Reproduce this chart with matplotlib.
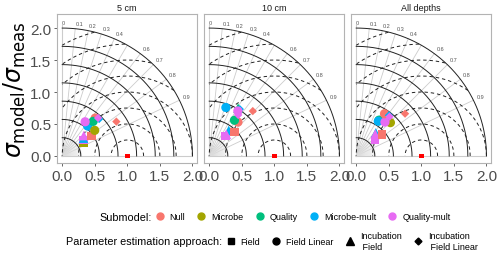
import numpy as np
import matplotlib
matplotlib.use("Agg")
import matplotlib.pyplot as plt
from matplotlib.lines import Line2D

plt.rcParams["font.family"] = ["Liberation Sans", "DejaVu Sans"]
plt.rcParams["mathtext.fontset"] = "dejavusans"

# ---------- data (sd ratio and correlation per point) ----------
panels = ["5 cm", "10 cm", "All depths"]
submodels = ["Null", "Microbe", "Quality", "Microbe-mult", "Quality-mult"]
sub_colors = ["#F8766D", "#A3A500", "#00BF7D", "#00B0F6", "#E76BF3"]
approaches = ["Field", "Field Linear", "Incubation Field", "Incubation Field Linear"]
approach_labels = ["Field", "Field Linear", "Incubation\n Field", "Incubation\n Field Linear"]

p1_sub = ["Microbe", "Quality-mult", "Microbe-mult", "Quality-mult", "Null", "Null",
          "Microbe-mult", "Microbe", "Quality", "Quality-mult", "Microbe-mult",
          "Quality-mult", "Null"]
p1_app = ["Field", "Field", "Incubation Field", "Incubation Field", "Field", "Field Linear",
          "Field Linear", "Field Linear", "Field Linear", "Field Linear",
          "Incubation Field Linear", "Incubation Field Linear", "Incubation Field Linear"]
p1_sd = [0.38, 0.41, 0.43, 0.46, 0.55, 0.78, 0.61, 0.64, 0.72, 0.64, 0.81, 0.81, 0.99]
p1_r = [0.85, 0.79, 0.76, 0.72, 0.82, 0.65, 0.64, 0.78, 0.66, 0.55, 0.70, 0.68, 0.84]

p2_sub = ["Quality-mult", "Microbe-mult", "Quality-mult", "Null", "Null", "Quality",
          "Microbe-mult", "Quality", "Microbe-mult", "Quality-mult", "Quality-mult", "Null"]
p2_app = ["Field", "Incubation Field", "Incubation Field", "Field", "Field Linear",
          "Field Linear", "Field Linear", "Incubation Field", "Incubation Field Linear",
          "Field Linear", "Incubation Field Linear", "Incubation Field Linear"]
p2_sd = [0.40, 0.50, 0.43, 0.54, 0.69, 0.68, 0.80, 0.87, 0.87, 0.83, 0.78, 0.97]
p2_r = [0.63, 0.60, 0.61, 0.72, 0.64, 0.57, 0.32, 0.51, 0.54, 0.53, 0.57, 0.69]

p3_sub = ["Quality-mult", "Microbe-mult", "Quality-mult", "Null", "Quality", "Microbe-mult",
          "Microbe", "Quality-mult", "Null", "Microbe-mult", "Quality-mult", "Null"]
p3_app = ["Field", "Incubation Field", "Incubation Field", "Field", "Field Linear",
          "Field Linear", "Field Linear", "Field Linear", "Field Linear",
          "Incubation Field Linear", "Incubation Field Linear", "Incubation Field Linear"]
p3_sd = [0.38, 0.47, 0.45, 0.52, 0.66, 0.64, 0.74, 0.69, 0.79, 0.81, 0.80, 1.00]
p3_r = [0.76, 0.64, 0.65, 0.76, 0.53, 0.53, 0.71, 0.64, 0.55, 0.62, 0.64, 0.75]

ref_sd, ref_r = 1.0, 1.0

panel_data = [(p1_sub, p1_app, p1_sd, p1_r),
              (p2_sub, p2_app, p2_sd, p2_r),
              (p3_sub, p3_app, p3_sd, p3_r)]

shape_map = {"Field": ("s", 38), "Field Linear": ("o", 44),
             "Incubation Field": ("^", 48), "Incubation Field Linear": ("D", 18)}
color_map = dict(zip(submodels, sub_colors))

sd_arcs = np.linspace(0, 2, 8)[1:]
rmsd_arcs = np.arange(0.25, 2.3, 0.25)
corr_lines = [0.1, 0.2, 0.3, 0.4, 0.5, 0.6, 0.7, 0.8, 0.9]
corr_labels = [0, 0.1, 0.2, 0.3, 0.4, 0.6, 0.7, 0.8, 0.9]

fig = plt.figure(figsize=(5, 2.55), dpi=100)
lefts = [57, 204, 351]
for i, name in enumerate(panels):
    ax = fig.add_axes([lefts[i] / 500, 1 - 164 / 255, 140 / 500, 149 / 255])
    th = np.linspace(0, np.pi / 2, 200)

    # correlation rays
    for c in corr_lines:
        a = np.arccos(c)
        ax.plot([0, 2 * np.cos(a)], [0, 2 * np.sin(a)], color="#CCCCCC", lw=0.6, zorder=1)
    for a in np.radians(np.arange(3, 60, 4)):
        ax.plot([0, 0.3 * np.cos(a)], [0, 0.3 * np.sin(a)], color="#DDDDDD", lw=0.4, zorder=1)
    ax.plot([0, 2], [0, 0], color="#CCCCCC", lw=0.8, zorder=1)
    ax.plot([0, 0], [0, 2.05], color="#CCCCCC", lw=0.8, zorder=1)

    # sd arcs
    for rr in sd_arcs:
        ax.plot(rr * np.cos(th), rr * np.sin(th), color="#222222", lw=0.7, zorder=2)

    # rmsd arcs around the reference
    tt = np.linspace(0, np.pi, 400)
    for rr in rmsd_arcs:
        xs = 1 + rr * np.cos(tt)
        ys = rr * np.sin(tt)
        keep = (xs ** 2 + ys ** 2 <= 4) & (xs >= 0)
        xs = np.where(keep, xs, np.nan)
        ys = np.where(keep, ys, np.nan)
        ax.plot(xs, ys, color="#222222", lw=0.7, ls=(0, (3.5, 3)), zorder=2)

    for c in corr_labels:
        a = np.arccos(c)
        ax.text(2.05 * np.cos(a), 2.05 * np.sin(a), f"{c:g}", fontsize=4,
                color="#555555", ha="left", va="bottom")

    subs, apps, sds, rs = panel_data[i]
    for s, ap, sd, r in zip(subs, apps, sds, rs):
        m, sz = shape_map[ap]
        ax.scatter(sd * r, sd * np.sqrt(1 - r ** 2), marker=m, s=sz,
                   color=color_map[s], edgecolors="none", zorder=4)
    ax.scatter(ref_sd * ref_r, ref_sd * np.sqrt(1 - ref_r ** 2), marker="s", s=10,
               color="red", edgecolors="none", zorder=5, clip_on=False)

    ax.set_xlim(-0.08, 2.07)
    ax.set_ylim(-0.11, 2.22)
    ax.set_xticks([0, 0.5, 1, 1.5, 2])
    ax.set_xticklabels(["0.0", "0.5", "1.0", "1.5", "2.0"])
    ax.set_yticks([0, 0.5, 1, 1.5, 2])
    if i == 0:
        ax.set_yticklabels(["0.0", "0.5", "1.0", "1.5", "2.0"])
    else:
        ax.tick_params(axis="y", left=False, labelleft=False)
    ax.tick_params(labelsize=11, colors="#4D4D4D", length=2.5, width=0.6, pad=1.5)
    for sp in ax.spines.values():
        sp.set_color("#B3B3B3")
        sp.set_linewidth(0.8)
    ax.set_title(name, fontsize=6.5, color="#1A1A1A", pad=3)

fig.text(0.03, 1 - 90 / 255, r"$\sigma_{\mathrm{model}}/\sigma_{\mathrm{meas}}$",
         rotation=90, fontsize=17, ha="center", va="center")

# legends
fig.text(152 / 500, 1 - 218 / 255, "Submodel:", fontsize=7.8, ha="right", va="center")
h1 = [Line2D([], [], ls="", marker="o", markersize=5, color=c) for c in sub_colors]
fig.legend(h1, submodels, loc="center left", bbox_to_anchor=(155 / 500, 1 - 218 / 255),
           ncol=5, frameon=False, fontsize=6.5, handlelength=1.0, handletextpad=0.6,
           columnspacing=1.3, borderpad=0, borderaxespad=0)

fig.text(222 / 500, 1 - 242 / 255, "Parameter estimation approach:", fontsize=7.8,
         ha="right", va="center")
app_markers = [("s", 4.5), ("o", 5), ("^", 5.5), ("D", 3.5)]
h2 = [Line2D([], [], ls="", marker=m, markersize=ms, color="black") for m, ms in app_markers]
fig.legend(h2, approach_labels, loc="center left", bbox_to_anchor=(226 / 500, 1 - 242 / 255),
           ncol=4, frameon=False, fontsize=6.5, handlelength=1.0, handletextpad=0.6,
           columnspacing=1.3, borderpad=0, borderaxespad=0)

fig.savefig("out.png", dpi=100)
